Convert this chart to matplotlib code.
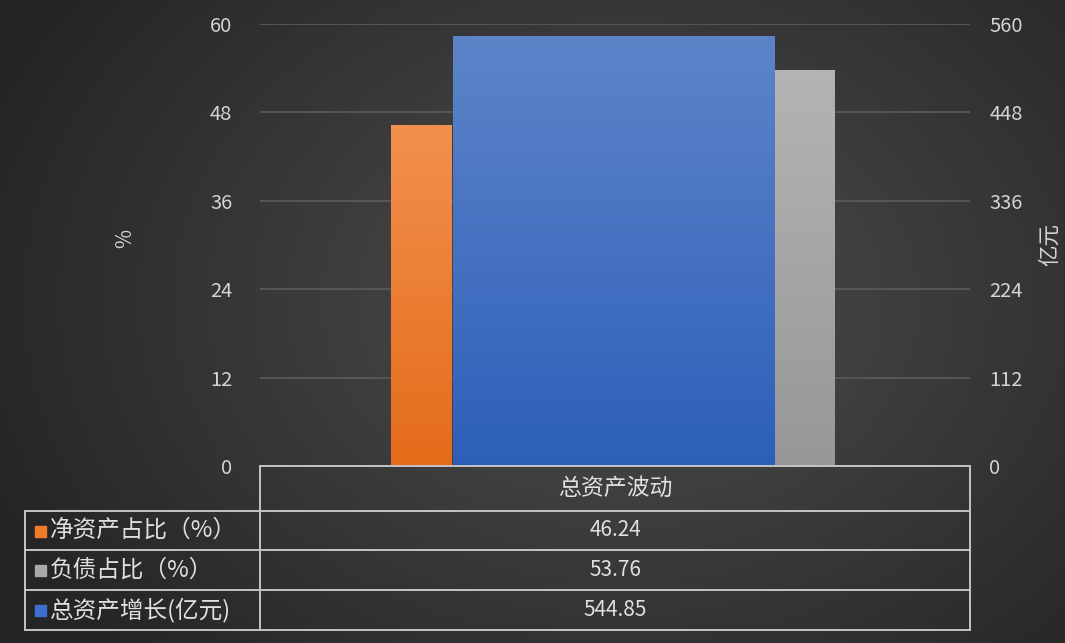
import numpy as np
import matplotlib
matplotlib.use("Agg")
import matplotlib.pyplot as plt
from matplotlib.colors import LinearSegmentedColormap

plt.rcParams['font.family'] = ['Noto Sans CJK SC', 'DejaVu Sans']

category = "总资产波动"
series_names = ["净资产占比（%）", "负债占比（%）", "总资产增长(亿元)"]
net_asset_pct = [46.24]
debt_pct = [53.76]
asset_growth = [544.85]
value_labels = ["46.24", "53.76", "544.85"]
left_ticks = [0, 12, 24, 36, 48, 60]
right_ticks = [0, 112, 224, 336, 448, 560]

W, H = 1065, 643
fig = plt.figure(figsize=(W / 100, H / 100), dpi=100)

# background radial gradient
bg = fig.add_axes([0, 0, 1, 1], zorder=0)
yy, xx = np.mgrid[0:H, 0:W]
r = np.sqrt(((xx - 620) / 680.0) ** 2 + ((yy - 300) / 520.0) ** 2)
r = np.clip(r, 0, 1)
c0 = np.array([0x4e, 0x4e, 0x4e]) / 255
c1 = np.array([0x25, 0x25, 0x25]) / 255
img = c0[None, None, :] * (1 - r[..., None]) + c1[None, None, :] * r[..., None]
bg.imshow(img, extent=[0, W, H, 0], aspect='auto')
bg.set_xlim(0, W); bg.set_ylim(H, 0)
bg.axis('off')

def fx(px):
    return px / W

def fy(py):
    return 1 - py / H

L, R, T, B = 260, 970, 24, 466
ax = fig.add_axes([fx(L), fy(B), fx(R) - fx(L), fy(T) - fy(B)], zorder=2)
ax.set_facecolor('none')
ax2 = ax.twinx()
ax2.set_facecolor('none')

ax.set_xlim(0, 1)
ax.set_ylim(0, 60)
ax2.set_ylim(0, 560)

def grad_bar(a, x0, w, h, top, bottom, ylim):
    bars = a.bar([x0], h, width=w, align='edge', color='none', edgecolor='none', zorder=3)
    cmap = LinearSegmentedColormap.from_list('g', [bottom, top])
    grad = np.linspace(0, 1, 256)[:, None]
    for b in bars:
        im = a.imshow(grad, cmap=cmap, extent=[x0, x0 + w, 0, b.get_height()],
                      origin='lower', aspect='auto', zorder=3)
        im.set_clip_path(b)
    a.set_xlim(0, 1)
    a.set_ylim(*ylim)

def px2x(px):
    return (px - L) / (R - L)

grad_bar(ax, px2x(391), px2x(452) - px2x(391), net_asset_pct, '#f2904e', '#e46c1a', (0, 60))
grad_bar(ax, px2x(774), px2x(835) - px2x(774), debt_pct, '#b4b4b4', '#979797', (0, 60))
grad_bar(ax2, px2x(453), px2x(775) - px2x(453), asset_growth, '#5d84c9', '#2d5fb9', (0, 560))

ax.set_yticks(left_ticks)
ax2.set_yticks(right_ticks)
ax.set_xticks([])
ax.yaxis.grid(True, color='#5c5c5c', lw=1.2)
ax.set_axisbelow(True)
for a in (ax, ax2):
    for s in a.spines.values():
        s.set_visible(False)
    a.tick_params(axis='y', length=0, colors='#d4d4d4', labelsize=14.5)
ax.tick_params(axis='y', pad=20)
ax2.tick_params(axis='y', pad=14)

fig.text(fx(125), fy(238), "%", rotation=90, color='#d4d4d4', fontsize=15,
         ha='center', va='center')
fig.text(fx(1050), fy(244), "亿元", rotation=90, color='#d4d4d4', fontsize=15.5,
         ha='center', va='center')

# data table
ov = fig.add_axes([0, 0, 1, 1], zorder=4)
ov.set_xlim(0, W); ov.set_ylim(H, 0)
ov.axis('off')
ov.set_facecolor('none')
lc = '#c4c4c4'
lw = 1.4
ov.plot([L, R], [B, B], color=lc, lw=lw)
rows_y = [511, 550, 590, 630]
for y in rows_y:
    ov.plot([25, R], [y, y], color=lc, lw=lw)
ov.plot([25, 25], [511, 630], color=lc, lw=lw)
ov.plot([L, L], [B, 630], color=lc, lw=lw)
ov.plot([R, R], [B, 630], color=lc, lw=lw)

tc = '#e0e0e0'
mid = (L + R) / 2
ov.text(mid, (B + 511) / 2, category, color=tc, fontsize=16.5, ha='center', va='center')
colors = ['#ee7a2a', '#a8a8a8', '#3d6fd0']
for i in range(3):
    yc = (rows_y[i] + rows_y[i + 1]) / 2
    ov.add_patch(plt.Rectangle((35, yc - 5), 11, 11, color=colors[i]))
    ov.text(50, yc, series_names[i], color=tc, fontsize=17, ha='left', va='center')
    ov.text(mid, yc, value_labels[i], color=tc, fontsize=15, ha='center', va='center')

fig.savefig("out.png", dpi=100, facecolor='#333333')
